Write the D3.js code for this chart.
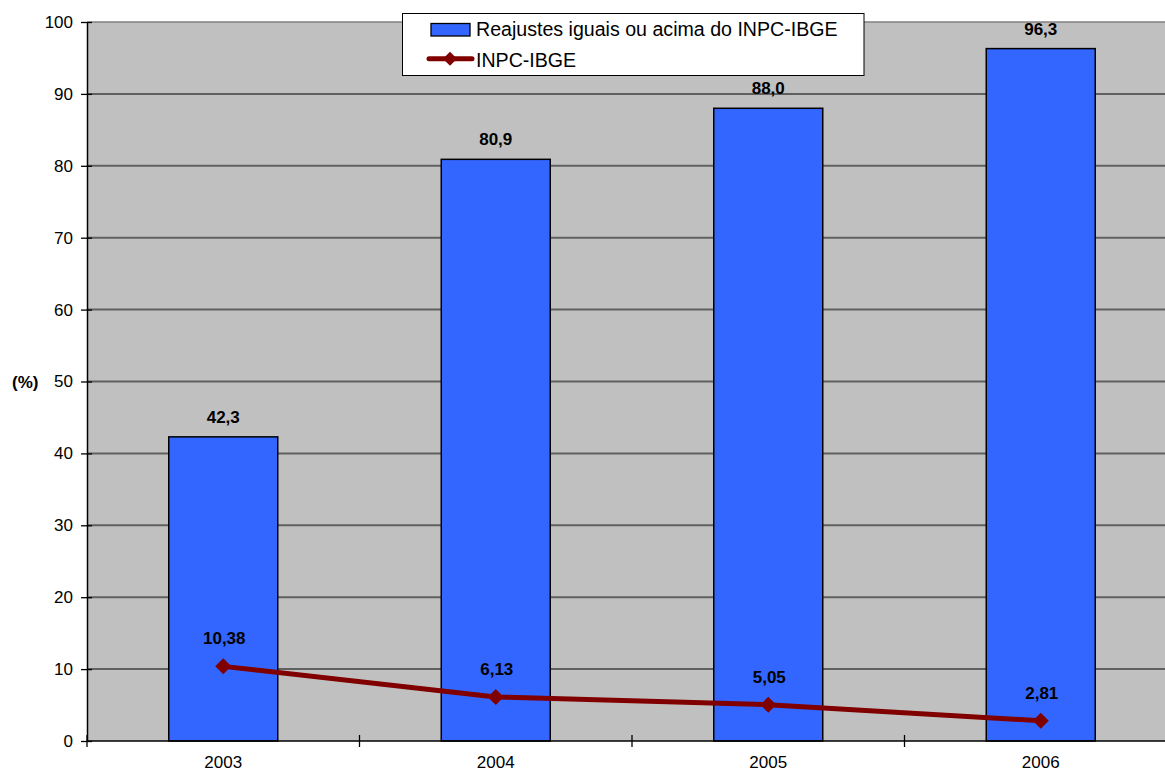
<!DOCTYPE html>
<html>
<head>
<meta charset="utf-8">
<script src="https://cdn.jsdelivr.net/npm/d3@7"></script>
<style>
  html, body { margin: 0; padding: 0; background: #ffffff; }
  svg { display: block; }
  text { font-family: "Liberation Sans", Arial, Helvetica, sans-serif; }
</style>
</head>
<body>
<svg id="chart" width="1165" height="772"></svg>
<script>
// Data
const years = ["2003", "2004", "2005", "2006"];
const reajustes = [42.3, 80.9, 88.0, 96.3];
const inpc = [10.38, 6.13, 5.05, 2.81];
const yTicks = [0, 10, 20, 30, 40, 50, 60, 70, 80, 90, 100];
const barLabels = ["42,3", "80,9", "88,0", "96,3"];
const lineLabels = ["10,38", "6,13", "5,05", "2,81"];
const seriesNames = ["Reajustes iguais ou acima do INPC-IBGE", "INPC-IBGE"];

const svg = d3.select("#chart");
const plot = { left: 87, right: 1177, top: 22, bottom: 741 };

const x = d3.scaleBand()
  .domain(years)
  .range([plot.left, plot.right])
  .paddingInner(0.6)
  .paddingOuter(0.3);

const y = d3.scaleLinear()
  .domain([0, 100])
  .range([plot.bottom, plot.top]);

// Plot background
svg.append("rect")
  .attr("x", plot.left).attr("y", plot.top)
  .attr("width", plot.right - plot.left)
  .attr("height", plot.bottom - plot.top)
  .attr("fill", "#c0c0c0");

// Top border of plot area
svg.append("line")
  .attr("x1", plot.left).attr("x2", plot.right)
  .attr("y1", plot.top).attr("y2", plot.top)
  .attr("stroke", "#808080").attr("stroke-width", 1.5);

// Horizontal gridlines
svg.append("g")
  .selectAll("line")
  .data(yTicks.filter(t => t > 0 && t < 100))
  .join("line")
  .attr("x1", plot.left).attr("x2", plot.right)
  .attr("y1", d => y(d)).attr("y2", d => y(d))
  .attr("stroke", "#606060").attr("stroke-width", 2);

// Bars
const bars = years.map((yr, i) => ({ yr, v: reajustes[i], label: barLabels[i] }));
svg.append("g")
  .selectAll("rect")
  .data(bars)
  .join("rect")
  .attr("x", d => x(d.yr))
  .attr("y", d => y(d.v))
  .attr("width", x.bandwidth())
  .attr("height", d => y(0) - y(d.v))
  .attr("fill", "#3366ff")
  .attr("stroke", "#000000")
  .attr("stroke-width", 1.5);

// Y axis (cross ticks)
const yAxis = d3.axisLeft(y).tickValues(yTicks).tickSizeInner(5).tickSizeOuter(0).tickPadding(8);
const gy = svg.append("g").attr("transform", `translate(${plot.left},0)`).call(yAxis);
gy.select(".domain").attr("stroke", "#000").attr("stroke-width", 1.5);
gy.selectAll(".tick line").attr("stroke", "#000").attr("stroke-width", 1.3).attr("x2", 5).attr("x1", -6);
gy.selectAll(".tick text")
  .attr("x", -14)
  .attr("font-size", 17)
  .attr("font-family", "'Liberation Sans', Arial, sans-serif")
  .attr("fill", "#000");

// X axis
const gx = svg.append("g").attr("transform", `translate(0,${plot.bottom})`);
gx.append("line")
  .attr("x1", plot.left).attr("x2", plot.right)
  .attr("y1", 0).attr("y2", 0)
  .attr("stroke", "#000").attr("stroke-width", 1.5);
// Category boundaries
const bounds = years.map(yr => x(yr) - x.step() * x.paddingInner() / 2);
gx.selectAll("line.sep")
  .data(bounds.slice(1).concat([plot.left]))
  .join("line")
  .attr("class", "sep")
  .attr("x1", d => d).attr("x2", d => d)
  .attr("y1", -6).attr("y2", 6)
  .attr("stroke", "#000").attr("stroke-width", 1.3);
gx.selectAll("text")
  .data(years)
  .join("text")
  .attr("x", d => x(d) + x.bandwidth() / 2)
  .attr("y", 27)
  .attr("text-anchor", "middle")
  .attr("font-size", 17)
  .attr("fill", "#000")
  .text(d => d);

// Y axis title
svg.append("text")
  .attr("x", 12).attr("y", y(50) + 6)
  .attr("font-size", 17).attr("font-weight", "bold")
  .attr("fill", "#000")
  .text("(%)");

// INPC line
const pts = years.map((yr, i) => ({ yr, v: inpc[i], label: lineLabels[i] }));
const cx = d => x(d.yr) + x.bandwidth() / 2;
const line = d3.line().x(cx).y(d => y(d.v));
svg.append("path")
  .datum(pts)
  .attr("d", line)
  .attr("fill", "none")
  .attr("stroke", "#800000")
  .attr("stroke-width", 5)
  .attr("stroke-linejoin", "round");

svg.append("g")
  .selectAll("path")
  .data(pts)
  .join("path")
  .attr("transform", d => `translate(${cx(d)},${y(d.v)})`)
  .attr("d", "M0,-8L8,0L0,8L-8,0Z")
  .attr("fill", "#800000");

// Bar value labels
svg.append("g")
  .selectAll("text")
  .data(bars)
  .join("text")
  .attr("x", d => x(d.yr) + x.bandwidth() / 2)
  .attr("y", d => y(d.v) - 14)
  .attr("text-anchor", "middle")
  .attr("font-size", 17).attr("font-weight", "bold")
  .attr("fill", "#000")
  .text(d => d.label);

// Line value labels
svg.append("g")
  .selectAll("text")
  .data(pts)
  .join("text")
  .attr("x", d => cx(d) + 1)
  .attr("y", d => y(d.v) - 22)
  .attr("text-anchor", "middle")
  .attr("font-size", 17).attr("font-weight", "bold")
  .attr("fill", "#000")
  .text(d => d.label);

// Legend
const lg = svg.append("g");
lg.append("rect")
  .attr("x", 402.5).attr("y", 13.5)
  .attr("width", 461.5).attr("height", 62)
  .attr("fill", "#fff").attr("stroke", "#000").attr("stroke-width", 1);
lg.append("rect")
  .attr("x", 431).attr("y", 23.5)
  .attr("width", 39).attr("height", 12.5)
  .attr("fill", "#3366ff").attr("stroke", "#000").attr("stroke-width", 1.3);
lg.append("line")
  .attr("x1", 429).attr("x2", 472)
  .attr("y1", 58.7).attr("y2", 58.7)
  .attr("stroke", "#800000").attr("stroke-width", 5).attr("stroke-linecap", "round");
lg.append("path")
  .attr("transform", "translate(450,58.7)")
  .attr("d", "M0,-7L7,0L0,7L-7,0Z")
  .attr("fill", "#800000");
lg.selectAll("text.lt")
  .data(seriesNames)
  .join("text")
  .attr("class", "lt")
  .attr("x", 476)
  .attr("y", (d, i) => i === 0 ? 35.5 : 66.5)
  .attr("font-size", 19.6)
  .attr("fill", "#000")
  .text(d => d);
</script>
</body>
</html>
